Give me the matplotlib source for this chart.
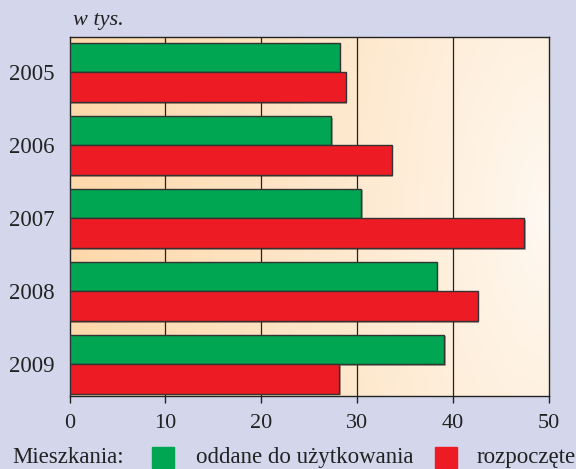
import matplotlib
matplotlib.use("Agg")
import matplotlib.pyplot as plt
import matplotlib.patches as mpatches
import matplotlib.patheffects as pe
import numpy as np

# data (thousands of dwellings)
years = ["2005", "2006", "2007", "2008", "2009"]
oddane = [28.2, 27.3, 30.4, 38.3, 39.1]
rozpoczete = [28.8, 33.6, 47.4, 42.6, 28.1]
xticks = [0, 10, 20, 30, 40, 50]

green = "#00A651"
red = "#ED1C24"
bg = "#D4D7EB"
ink = "#222222"

plt.rcParams["font.family"] = "serif"
plt.rcParams["font.serif"] = ["Liberation Serif", "DejaVu Serif"]

fig = plt.figure(figsize=(5.76, 4.69), dpi=100, facecolor=bg)
ax = fig.add_axes([0.1207, 0.1557, 0.832, 0.766])

# soft peach gradient in the plot area
nx, ny = 300, 200
gx = np.linspace(0, 1, nx)
gy = np.linspace(0, 1, ny)
X, Y = np.meshgrid(gx, gy)
t = np.clip(np.sqrt((1 - X) ** 2 + (0.35 * (Y - 0.5)) ** 2), 0, 1) ** 0.8
left_c = np.array([253, 216, 170]) / 255
right_c = np.array([255, 250, 244]) / 255
img = right_c + (left_c - right_c) * t[..., None]
ax.imshow(img, extent=[0, 50, 4.435, -0.49], aspect="auto", zorder=0,
          interpolation="bilinear")

h = 0.405
pos = np.arange(len(years))
shadow = [pe.SimplePatchShadow(offset=(1.2, -1.2), alpha=0.35), pe.Normal()]
ax.barh(pos - h / 2, oddane, height=h, color=green, edgecolor="#333333",
        linewidth=1, zorder=3, path_effects=shadow)
ax.barh(pos + h / 2, rozpoczete, height=h, color=red, edgecolor="#333333",
        linewidth=1, zorder=3, path_effects=shadow)

for v in xticks[1:-1]:
    ax.axvline(v, color=ink, lw=0.9, zorder=1)

ax.set_xlim(0, 50)
ax.set_ylim(4.435, -0.49)
ax.set_xticks(xticks)
ax.set_xticklabels([str(v) for v in xticks], fontsize=16, color=ink)
ax.set_yticks(pos)
ax.set_yticklabels(years, fontsize=16.5, color=ink)
ax.tick_params(axis="y", length=0, pad=10.5)
ax.tick_params(axis="x", length=5, width=1, direction="out", pad=8,
               color=ink)
for s in ax.spines.values():
    s.set_color(ink)
    s.set_linewidth(1)

fig.text(73 / 576, (469 - 25) / 469, "w tys.", fontsize=16, style="italic",
         ha="left", va="baseline", color=ink)

# legend row
ly = (469 - 463) / 469
fs = 16.5
fig.text(12 / 576, ly, "Mieszkania:", fontsize=fs, ha="left", va="baseline",
         color=ink)
fig.patches.append(mpatches.Rectangle((152 / 576, 1 / 469), 22 / 576, 21 / 469,
                                      transform=fig.transFigure, color=green))
fig.text(196 / 576, ly, "oddane do użytkowania", fontsize=fs, ha="left",
         va="baseline", color=ink)
fig.patches.append(mpatches.Rectangle((435 / 576, 1 / 469), 22 / 576, 21 / 469,
                                      transform=fig.transFigure, color=red))
fig.text(477 / 576, ly, "rozpoczęte", fontsize=fs, ha="left", va="baseline",
         color=ink)

fig.savefig("out.png", dpi=100, facecolor=bg)
